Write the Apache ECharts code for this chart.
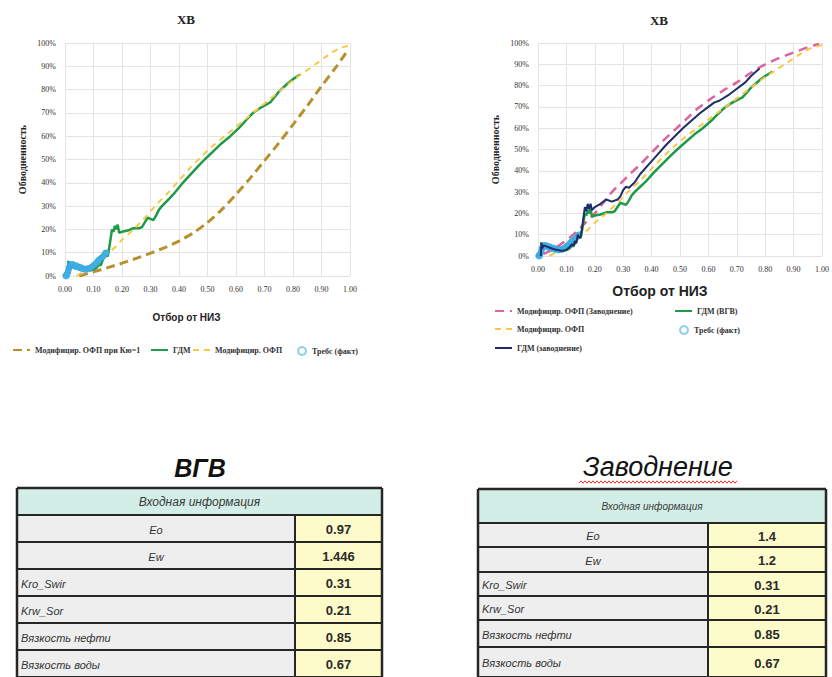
<!DOCTYPE html>
<html><head><meta charset="utf-8">
<script src="https://cdn.jsdelivr.net/npm/echarts@6/dist/echarts.min.js"></script>
<style>html,body{margin:0;padding:0;background:#fff}#c{width:832px;height:677px}</style>
</head><body><div id="c"></div>
<script>
// ---------------- DATA ----------------
const chartTitle = 'ХВ';
const xAxisName = 'Отбор от НИЗ';
const yAxisName = 'Обводненность';
const xMin = 0, xMax = 1, xStep = 0.1;
const yMin = 0, yMax = 100, yStep = 10;

const nameOfpKw1 = 'Модифицир. ОФП при Кю=1';
const nameGdm = 'ГДМ';
const nameOfp = 'Модифицир. ОФП';
const nameTrebs = 'Требс (факт)';
const nameOfpZav = 'Модифицир. ОФП (Заводнение)';
const nameGdmVgv = 'ГДМ (ВГВ)';
const nameGdmZav = 'ГДМ (заводнение)';

// [отбор от НИЗ, обводненность %]
const ofpKw1 = [[0.05,0],[0.10,1.8],[0.15,3.6],[0.20,5.5],[0.25,7.6],[0.30,9.8],[0.35,12.2],[0.40,15],[0.45,18.5],[0.50,23],[0.55,28.5],[0.60,35],[0.65,42],[0.70,49.5],[0.75,57],[0.80,65],[0.85,73],[0.90,81.5],[0.95,89.5],[0.99,96.5]];

const gdmVgv = [[0.010,0],[0.012,6.5],[0.015,4],[0.02,5.5],[0.03,5],[0.04,4.5],[0.05,4],[0.06,3.5],[0.07,3.2],[0.08,3],[0.09,2.5],[0.10,2.8],[0.11,3.5],[0.12,5],[0.125,4.5],[0.13,6],[0.135,8],[0.14,11],[0.145,9],[0.15,8.5],[0.155,12],[0.16,16],[0.165,20],[0.17,19],[0.175,21.5],[0.18,20],[0.185,22],[0.19,18.5],[0.20,19],[0.22,19.5],[0.24,20.5],[0.26,20.5],[0.27,21],[0.28,23],[0.29,25],[0.30,24.5],[0.31,24],[0.32,26],[0.33,28.5],[0.34,30],[0.36,32.5],[0.38,35],[0.41,39.5],[0.44,43.5],[0.47,47.5],[0.49,50],[0.52,53.5],[0.55,57],[0.58,60],[0.61,63.5],[0.64,67.5],[0.66,70],[0.69,72.5],[0.72,74.5],[0.75,79],[0.78,82.5],[0.80,84.5],[0.825,86.5]];

const ofpMod = [[0.04,0],[0.08,3],[0.12,6.5],[0.16,10.5],[0.20,15.5],[0.24,20],[0.28,25],[0.32,30.5],[0.36,35.5],[0.40,41],[0.44,46.5],[0.48,51.5],[0.52,56],[0.56,60],[0.60,64],[0.64,68],[0.68,72],[0.72,76],[0.76,80],[0.80,84],[0.84,87.5],[0.88,91],[0.92,94.5],[0.96,97.5],[1.0,99]];

const trebs = [[0.002,0],[0.004,0.5],[0.006,0],[0.008,1],[0.010,1.5],[0.012,2.5],[0.014,3.5],[0.016,4],[0.018,4.5],[0.020,5],[0.024,4.5],[0.028,5],[0.032,4.5],[0.036,4],[0.040,4.5],[0.045,4],[0.050,3.5],[0.055,3.8],[0.060,3],[0.065,3.2],[0.070,2.8],[0.075,3],[0.080,3.2],[0.085,3],[0.090,3.5],[0.095,4],[0.100,4.5],[0.105,5],[0.110,5.5],[0.115,6.5],[0.120,7],[0.125,7.5],[0.130,8],[0.135,8.5],[0.140,9.5],[0.145,10]];

const ofpZav = [[0.02,1],[0.05,3],[0.08,5.5],[0.11,8.5],[0.14,12],[0.17,16],[0.20,20],[0.23,25],[0.26,30],[0.29,34],[0.32,38],[0.36,43],[0.40,48.5],[0.44,54],[0.48,59],[0.52,64],[0.56,69],[0.60,73],[0.65,77.5],[0.70,81.5],[0.75,86],[0.80,90],[0.85,93],[0.90,95.5],[0.95,98],[0.99,99.5]];

const gdmZav = [[0.01,0],[0.012,6],[0.015,3.5],[0.02,5],[0.03,4.5],[0.04,4],[0.05,3.5],[0.06,3],[0.07,2.8],[0.08,2.5],[0.09,2.5],[0.10,3],[0.11,4],[0.12,5.5],[0.125,5],[0.13,7],[0.135,6],[0.14,10],[0.145,8.5],[0.15,9],[0.155,13],[0.16,18],[0.165,23],[0.17,21],[0.175,24.5],[0.18,22],[0.185,24.5],[0.19,21.5],[0.20,23],[0.22,24.5],[0.24,26.5],[0.26,25.5],[0.28,26.5],[0.29,28],[0.30,31],[0.31,32.5],[0.32,32],[0.34,34.5],[0.36,38.5],[0.39,43],[0.42,47.5],[0.45,52],[0.48,56],[0.51,60],[0.54,63.5],[0.57,67],[0.60,70],[0.62,72],[0.64,73],[0.67,75.5],[0.70,78.5],[0.73,81.5],[0.75,84.5],[0.78,88]];

// tables
const tableHeader = 'Входная информация';
const tableParams = ['Eo','Ew','Kro_Swir','Krw_Sor','Вязкость нефти','Вязкость воды'];
const vgvTitle = 'ВГВ';
const vgvValues = ['0.97','1.446','0.31','0.21','0.85','0.67'];
const zavTitle = 'Заводнение';
const zavValues = ['1.4','1.2','0.31','0.21','0.85','0.67'];

// ---------------- STYLE / LAYOUT ----------------
const C = {gold:'#B8912F', green:'#1E9A48', yellow:'#F6C945', blue:'#45B3E6', pink:'#E0639E', navy:'#1F2C6A'};
const SERIF = '"Liberation Serif", "DejaVu Serif", serif';
const SANS = '"Liberation Sans", Arial, sans-serif';

function xAx(gi, nameGap, nameSize, pad) {
  return {gridIndex:gi, type:'value', min:xMin, max:xMax, interval:xStep,
    axisLabel:{formatter:v=>v.toFixed(2), fontFamily:SERIF, fontSize:8, color:'#333', margin:9},
    axisLine:{show:false}, axisTick:{show:false},
    splitLine:{show:true, lineStyle:{color:'#e4e4e4', width:1}},
    name:xAxisName, nameLocation:'middle', nameGap:nameGap,
    nameTextStyle:{fontFamily:SANS, fontWeight:'bold', fontSize:nameSize, color:'#222', padding:pad}};
}
function yAx(gi, nameGap) {
  return {gridIndex:gi, type:'value', min:yMin, max:yMax, interval:yStep,
    axisLabel:{formatter:'{value}%', fontFamily:SERIF, fontSize:8, color:'#333', margin:9},
    axisLine:{show:false}, axisTick:{show:false},
    splitLine:{show:true, lineStyle:{color:'#e4e4e4', width:1}},
    name:yAxisName, nameLocation:'middle', nameGap:nameGap, nameRotate:90,
    nameTextStyle:{fontFamily:SERIF, fontWeight:'bold', fontSize:10, color:'#222'}};
}
function lineS(name, data, gi, color, width, dash, smooth, z) {
  return {name, type:'line', data, xAxisIndex:gi, yAxisIndex:gi, showSymbol:false, symbol:'none',
    smooth: smooth ? 0.3 : false, z: z || 2, silent:true,
    lineStyle:{color, width, type: dash || 'solid', cap:'butt'}, itemStyle:{color}};
}
function scatterS(gi) {
  return {name:nameTrebs, type:'scatter', data:trebs, xAxisIndex:gi, yAxisIndex:gi, symbolSize:6, clip:false, z:5,
    itemStyle:{color:C.blue, opacity:0.85, borderColor:'#2a9fd8', borderWidth:0.5}};
}
const legText = {fontFamily:SERIF, fontWeight:'bold', fontSize:8, color:'#333'};
function leg(name, left, top) {
  return {data:[name], left, top, itemWidth:17, itemHeight:8, itemGap:0, padding:0,
    textStyle:legText, selectedMode:false, itemStyle:{opacity:0}};
}
function legTrebs(left, top) {
  return {data:[{name:nameTrebs, icon:'emptyCircle'}], left, top, itemWidth:10, itemHeight:8, itemGap:0, padding:0,
    textStyle:legText, selectedMode:false, itemStyle:{color:'#8fcfee', borderColor:'#8fcfee', borderWidth:1.2, opacity:1}};
}

// ---------------- TABLES ----------------
const tblL = {x0:17, x1:382, xv:295, top:488, rows:[515,542,569,596,623,650,677], titleX:200, titleY:468,
  titleFont:'italic bold 25px ' + SANS, headFont:'italic 12px ' + SANS, headColor:'#3a3a3a'};
const tblR = {x0:478, x1:826, xv:708, top:489, rows:[523,547,572,596,620,647,677], titleX:658, titleY:467,
  titleFont:'italic 27px ' + SANS, headFont:'italic 10px ' + SANS, headColor:'#3a3a3a', wavy:true};
const centeredParam = [true, true, false, false, false, false];

function buildTable(L, title, values) {
  const els = [];
  const lc = '#262626';
  els.push({type:'text', style:{text:title, x:L.titleX, y:L.titleY, align:'center', verticalAlign:'middle', font:L.titleFont, fill:'#111'}});
  if (L.wavy) {
    const pts = []; const w = 158; const x0 = L.titleX - w/2; const y0 = L.titleY + 15;
    for (let i = 0; i <= w/2; i++) pts.push([x0 + i*2, y0 + (i % 2 ? -1.2 : 1.2)]);
    els.push({type:'polyline', shape:{points:pts}, style:{stroke:'#E0302E', lineWidth:1, fill:null}});
  }
  els.push({type:'rect', shape:{x:L.x0, y:L.top, width:L.x1-L.x0, height:L.rows[0]-L.top}, style:{fill:'#D3EEE6'}});
  els.push({type:'text', style:{text:tableHeader, x:(L.x0+L.x1)/2, y:(L.top+L.rows[0])/2, align:'center', verticalAlign:'middle', font:L.headFont, fill:L.headColor}});
  for (let i = 0; i < tableParams.length; i++) {
    const y0 = L.rows[i], y1 = L.rows[i+1], ym = (y0+y1)/2;
    els.push({type:'rect', shape:{x:L.x0, y:y0, width:L.xv-L.x0, height:y1-y0}, style:{fill:'#EEEEEE'}});
    els.push({type:'rect', shape:{x:L.xv, y:y0, width:L.x1-L.xv, height:y1-y0}, style:{fill:'#FDFBC9'}});
    els.push({type:'text', style:{text:tableParams[i], x: centeredParam[i] ? (L.x0+L.xv)/2 : L.x0+4, y:ym+1,
      align: centeredParam[i] ? 'center' : 'left', verticalAlign:'middle', font:'italic 11px ' + SANS, fill:'#333'}});
    els.push({type:'text', style:{text:values[i], x:(L.xv+L.x1)/2, y:ym+1, align:'center', verticalAlign:'middle',
      font:'bold 13px ' + SANS, fill:'#2a2a2a'}});
  }
  const ys = [L.top].concat(L.rows);
  ys.forEach((y, k) => els.push({type:'line', shape:{x1:L.x0, y1:y, x2:L.x1, y2:y}, style:{stroke:lc, lineWidth: k===0 ? 2.5 : 2}}));
  els.push({type:'line', shape:{x1:L.x0, y1:L.top, x2:L.x0, y2:677}, style:{stroke:lc, lineWidth:2.5}});
  els.push({type:'line', shape:{x1:L.x1, y1:L.top, x2:L.x1, y2:677}, style:{stroke:lc, lineWidth:2.5}});
  els.push({type:'line', shape:{x1:L.xv, y1:L.rows[0], x2:L.xv, y2:677}, style:{stroke:lc, lineWidth:2}});
  return els;
}

// ---------------- CHART ----------------
const chart = echarts.init(document.getElementById('c'), null, {renderer:'svg'});
chart.setOption({
  backgroundColor:'#ffffff',
  animation:false,
  title:[
    {text:chartTitle, left:186, top:19, textAlign:'center', textVerticalAlign:'middle', padding:0,
      textStyle:{fontFamily:SERIF, fontWeight:'bold', fontSize:13, color:'#222'}},
    {text:chartTitle, left:659, top:20, textAlign:'center', textVerticalAlign:'middle', padding:0,
      textStyle:{fontFamily:SERIF, fontWeight:'bold', fontSize:13, color:'#222'}}
  ],
  grid:[
    {left:65, top:43, width:285, height:233},
    {left:538, top:43, width:286, height:213}
  ],
  xAxis:[ xAx(0, 36, 10, [0,42,0,0]), xAx(1, 28, 14, [0,40,0,0]) ],
  yAxis:[ yAx(0, 38), yAx(1, 38) ],
  legend:[
    leg(nameOfpKw1, 12, 346),
    leg(nameGdm, 150, 346),
    leg(nameOfp, 192, 346),
    legTrebs(297, 346),
    leg(nameOfpZav, 494, 307),
    leg(nameOfp, 494, 325),
    leg(nameGdmZav, 494, 344),
    leg(nameGdmVgv, 674, 307),
    legTrebs(679, 325)
  ],
  series:[
    lineS(nameOfpKw1, ofpKw1, 0, C.gold, 3, [9,5], true, 2),
    lineS(nameGdm, gdmVgv, 0, C.green, 2.5, 'solid', false, 3),
    lineS(nameOfp, ofpMod, 0, C.yellow, 2, [6,5], true, 4),
    scatterS(0),
    lineS(nameOfpZav, ofpZav, 1, C.pink, 2.5, [9,6], true, 2),
    lineS(nameGdmVgv, gdmVgv, 1, C.green, 2.5, 'solid', false, 3),
    lineS(nameOfp, ofpMod, 1, C.yellow, 2, [6,5], true, 4),
    scatterS(1),
    lineS(nameGdmZav, gdmZav, 1, C.navy, 2, 'solid', false, 6)
  ],
  graphic: buildTable(tblL, vgvTitle, vgvValues).concat(buildTable(tblR, zavTitle, zavValues))
});
</script>
</body></html>
